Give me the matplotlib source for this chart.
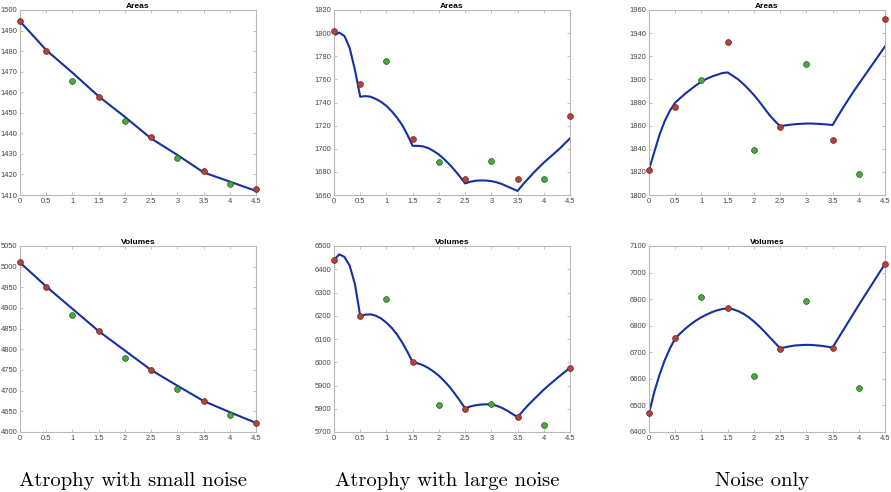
import matplotlib
matplotlib.use("Agg")
import matplotlib.pyplot as plt
import numpy as np

# ---------------- data ----------------
knot_x = [0, 0.5, 1.5, 2.5, 3.5, 4.5]          # red points
mid_x = [1, 2, 3, 4]                            # green points

curve_x_coarse = [0, 0.5, 1, 1.5, 2, 2.5, 3, 3.5, 4, 4.5]
curve_x_fine = [0.0, 0.1, 0.2, 0.3, 0.4, 0.5, 0.6, 0.7, 0.8, 0.9, 1.0, 1.1, 1.2,
                1.3, 1.4, 1.5, 1.6, 1.7, 1.8, 1.9, 2.0, 2.1, 2.2, 2.3, 2.4, 2.5,
                2.6, 2.7, 2.8, 2.9, 3.0, 3.1, 3.2, 3.3, 3.4, 3.5, 3.6, 3.7, 3.8,
                3.9, 4.0, 4.1, 4.2, 4.3, 4.4, 4.5]

# Atrophy with small noise
small_area_red = [1494.8, 1480.2, 1457.6, 1438.2, 1421.5, 1413.1]
small_area_green = [1465.5, 1446.1, 1428.2, 1415.3]
small_area_curve = [1494.5, 1480.5, 1469.5, 1458, 1448, 1437.5, 1429.5, 1421, 1416.5, 1412]
small_vol_red = [5010.6, 4952, 4844, 4750, 4675, 4622]
small_vol_green = [4884, 4780, 4704, 4641]
small_vol_curve = [5010, 4952, 4898, 4844, 4797, 4750, 4712, 4675, 4648, 4622]

# Atrophy with large noise
large_area_red = [1802.2, 1755.8, 1708.5, 1673.5, 1673.5, 1728.5]
large_area_green = [1775.8, 1688.7, 1689.5, 1673.8]
large_area_curve = [1798, 1800.5, 1797.5, 1787, 1768, 1745,
                    1745.5, 1745, 1743, 1740.5, 1737, 1732.5, 1727, 1720.5, 1712, 1702.5,
                    1702.5, 1702, 1700.5, 1698, 1695, 1691, 1686.5, 1681.5, 1676, 1670,
                    1671.5, 1672.3, 1672.6, 1672.5, 1672, 1671, 1669.5, 1667.5, 1665.5, 1663.5,
                    1669, 1674, 1679, 1683.5, 1688, 1692, 1696, 1700, 1704.5, 1709]
large_vol_red = [6438.5, 6198, 5999, 5800, 5763, 5976]
large_vol_green = [6271, 5816, 5819, 5729]
large_vol_curve = [6440, 6464, 6453, 6415, 6335, 6199,
                   6205, 6206, 6200, 6188, 6170, 6148, 6120, 6085, 6045, 6000,
                   5995, 5987, 5975, 5960, 5942, 5920, 5895, 5866, 5835, 5802,
                   5810, 5815, 5818, 5819, 5818, 5813, 5804, 5792, 5778, 5764,
                   5790, 5815, 5838, 5860, 5882, 5902, 5921, 5940, 5958, 5976]

# Noise only
noise_area_red = [1821.8, 1876, 1932.2, 1859.1, 1847.9, 1952.5]
noise_area_green = [1899.2, 1838.7, 1913, 1818.1]
noise_area_curve = [1822, 1837, 1852, 1864, 1873, 1880,
                    1884, 1888, 1891.5, 1895, 1898, 1900.5, 1902.5, 1904, 1905.5, 1906,
                    1903, 1900, 1896, 1891.5, 1886.5, 1881, 1875, 1869, 1864, 1859.5,
                    1860.2, 1860.8, 1861.3, 1861.6, 1861.8, 1861.8, 1861.6, 1861.3, 1861, 1860.5,
                    1868, 1875.5, 1882.5, 1889.5, 1896, 1902.5, 1909, 1915.5, 1922, 1928.5]
noise_vol_red = [6471, 6752, 6865, 6714, 6718, 7032]
noise_vol_green = [6907, 6609, 6893, 6564]
noise_vol_curve = [6471, 6550, 6615, 6670, 6715, 6752,
                   6772, 6790, 6806, 6820, 6832, 6842, 6851, 6858, 6863, 6865,
                   6862, 6855, 6845, 6832, 6816, 6798, 6778, 6757, 6736, 6715,
                   6719, 6723, 6726, 6727, 6728, 6727.5, 6726, 6724, 6721, 6718,
                   6750, 6782, 6814, 6846, 6878, 6909, 6940, 6971, 7002, 7032]

x_ticks = [0, 0.5, 1, 1.5, 2, 2.5, 3, 3.5, 4, 4.5]
x_tick_labels = ["0", "0.5", "1", "1.5", "2", "2.5", "3", "3.5", "4", "4.5"]

captions = ["Atrophy with small noise", "Atrophy with large noise", "Noise only"]
row_titles = ["Areas", "Volumes"]

panels = [
    # (row, col, curve_x, curve, red, green, ylim, yticks)
    (0, 0, curve_x_coarse, small_area_curve, small_area_red, small_area_green,
     (1410, 1500), list(range(1410, 1501, 10))),
    (1, 0, curve_x_coarse, small_vol_curve, small_vol_red, small_vol_green,
     (4600, 5050), list(range(4600, 5051, 50))),
    (0, 1, curve_x_fine, large_area_curve, large_area_red, large_area_green,
     (1660, 1820), list(range(1660, 1821, 20))),
    (1, 1, curve_x_fine, large_vol_curve, large_vol_red, large_vol_green,
     (5700, 6500), list(range(5700, 6501, 100))),
    (0, 2, curve_x_fine, noise_area_curve, noise_area_red, noise_area_green,
     (1800, 1960), list(range(1800, 1961, 20))),
    (1, 2, curve_x_fine, noise_vol_curve, noise_vol_red, noise_vol_green,
     (6400, 7100), list(range(6400, 7101, 100))),
]

# ---------------- layout ----------------
W, H = 891, 492
fig = plt.figure(figsize=(W / 100, H / 100), dpi=100)

col_left = [20, 334, 649]
ax_w = 236
row_top = [10, 246]
ax_h = [185, 186]

spine_col = "#b8b8b8"
tick_col = "#444444"
blue = "#1530a0"
red_face, red_edge = "#b3423b", "#6e2420"
green_face, green_edge = "#4aa83f", "#2c5a27"

for (r, c, cx, cy, red, green, ylim, yticks) in panels:
    left = col_left[c] / W
    bottom = 1 - (row_top[r] + ax_h[r]) / H
    ax = fig.add_axes([left, bottom, ax_w / W, ax_h[r] / H])
    ax.plot(cx, cy, color=blue, lw=1.5, zorder=2, solid_joinstyle="round")
    ax.plot(knot_x, red, "o", ms=4.2, mfc=red_face, mec=red_edge, mew=0.5,
            zorder=3, clip_on=False)
    ax.plot(mid_x, green, "o", ms=4.2, mfc=green_face, mec=green_edge, mew=0.5,
            zorder=3, clip_on=False)
    ax.set_xlim(0, 4.5)
    ax.set_ylim(*ylim)
    ax.set_xticks(x_ticks)
    ax.set_xticklabels(x_tick_labels)
    ax.set_yticks(yticks)
    ax.set_yticklabels([str(v) for v in yticks])
    for s in ax.spines.values():
        s.set_color(spine_col)
        s.set_linewidth(0.8)
    ax.tick_params(axis="both", direction="in", length=2.5, width=0.6,
                   color=spine_col, labelcolor=tick_col, labelsize=5.4,
                   top=True, right=True, pad=2)
    for lab in ax.get_xticklabels() + ax.get_yticklabels():
        lab.set_fontfamily(["Liberation Sans", "DejaVu Sans"])
    ax.set_title(row_titles[r], fontsize=6, fontweight="bold",
                 family=["Liberation Sans", "DejaVu Sans"], pad=1.5)

caption_cx = [133, 447, 762]
for c, txt in enumerate(captions):
    fig.text(caption_cx[c] / W, 1 - 486 / H, txt, ha="center", va="baseline",
             fontsize=14.8, family=["cmr10", "DejaVu Serif"])

fig.savefig("out.png", dpi=100)
